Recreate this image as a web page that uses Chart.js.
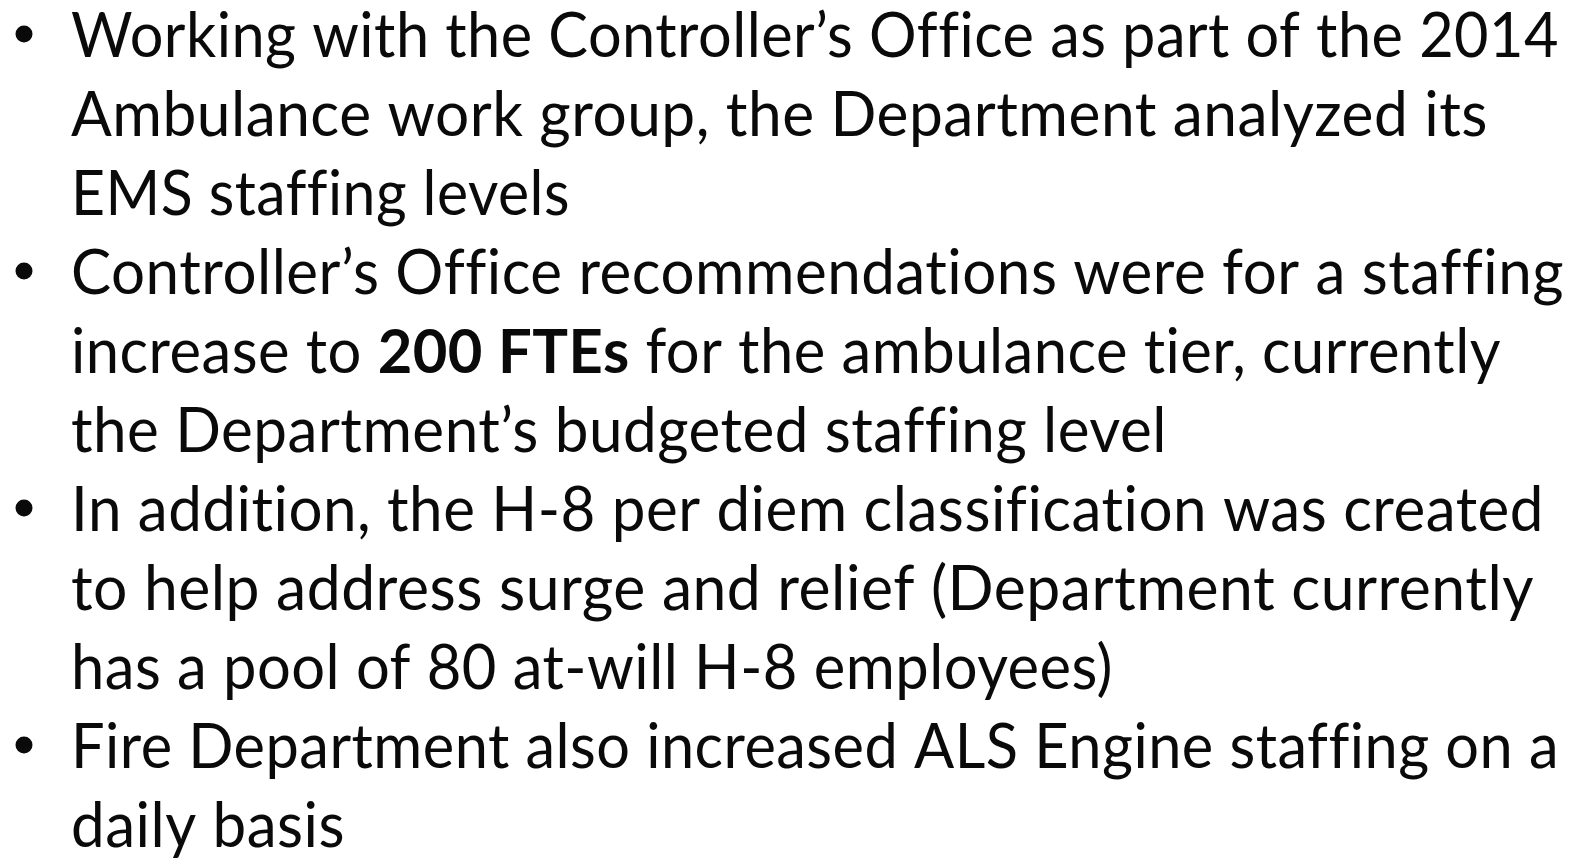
<!DOCTYPE html>
<html>
<head>
<meta charset="utf-8">
<title>EMS staffing</title>
<script src="https://cdn.jsdelivr.net/npm/chart.js@4/dist/chart.umd.min.js"></script>
<style>
  html, body { margin: 0; padding: 0; background: #fff; }
  #slide { display: block; }
</style>
</head>
<body>
<canvas id="slide" width="1576" height="860"></canvas>
<script>
// Slide text, one array per bullet (one entry per wrapped line, **bold** runs)
const bullet1 = [
  'Working with the Controller’s Office as part of the 2014',
  'Ambulance work group, the Department analyzed its',
  'EMS staffing levels'
];
const bullet2 = [
  'Controller’s Office recommendations were for a staffing',
  'increase to **200 FTEs** for the ambulance tier, currently',
  'the Department’s budgeted staffing level'
];
const bullet3 = [
  'In addition, the H-8 per diem classification was created',
  'to help address surge and relief (Department currently',
  'has a pool of 80 at-will H-8 employees)'
];
const bullet4 = [
  'Fire Department also increased ALS Engine staffing on a',
  'daily basis'
];

const bullets = [bullet1, bullet2, bullet3, bullet4];

// Layout (not data)
const FONT_FAMILY = 'Lato, "Open Sans", sans-serif';
const FONT_SIZE = 61;
const TEXT_LEFT = 71;
const FIRST_BASELINE = 57;
const LINE_HEIGHT = 79;
const BULLET_X = 24;
const BULLET_R = 8.5;
// right edge of every wrapped line
const lineRight = [1559, 1488, 570, 1564, 1501, 1167, 1544, 1534, 1113, 1559, 345];

function parseRuns(line) {
  // split "a **b** c" into [{text, bold}]
  return line.split('**').map((text, i) => ({ text, bold: i % 2 === 1 })).filter(r => r.text);
}

function fontFor(bold) {
  return `${bold ? 'bold ' : ''}${FONT_SIZE}px ${FONT_FAMILY}`;
}

const slideText = {
  id: 'slideText',
  afterDraw(chart) {
    const ctx = chart.ctx;
    ctx.save();
    ctx.fillStyle = '#0a0a0a';
    ctx.textBaseline = 'alphabetic';
    ctx.textAlign = 'left';
    // a tiny letter spacing keeps Lato from using its fi / ti ligatures
    if ('letterSpacing' in ctx) ctx.letterSpacing = '0.5px';

    let row = 0;
    bullets.forEach(lines => {
      lines.forEach((line, j) => {
        const y = FIRST_BASELINE + row * LINE_HEIGHT;

        if (j === 0) {
          ctx.beginPath();
          ctx.arc(BULLET_X, y - 23, BULLET_R, 0, Math.PI * 2);
          ctx.fill();
        }

        const runs = parseRuns(line);
        let total = 0;
        runs.forEach(r => {
          ctx.font = fontFor(r.bold);
          r.w = ctx.measureText(r.text).width;
          total += r.w;
        });

        // squeeze the line to the slide's width
        const sx = (lineRight[row] - TEXT_LEFT) / total;
        ctx.save();
        ctx.translate(TEXT_LEFT, y);
        ctx.scale(sx, 1);
        let x = 0;
        runs.forEach(r => {
          ctx.font = fontFor(r.bold);
          ctx.fillText(r.text, x, 0);
          x += r.w;
        });
        ctx.restore();

        row++;
      });
    });
    ctx.restore();
  }
};

new Chart(document.getElementById('slide'), {
  type: 'scatter',
  data: { datasets: [] },
  options: {
    responsive: false,
    animation: false,
    events: [],
    layout: { padding: 0 },
    plugins: {
      legend: { display: false },
      tooltip: { enabled: false },
      title: { display: false }
    },
    scales: {
      x: { display: false },
      y: { display: false }
    }
  },
  plugins: [slideText]
});
</script>
</body>
</html>
